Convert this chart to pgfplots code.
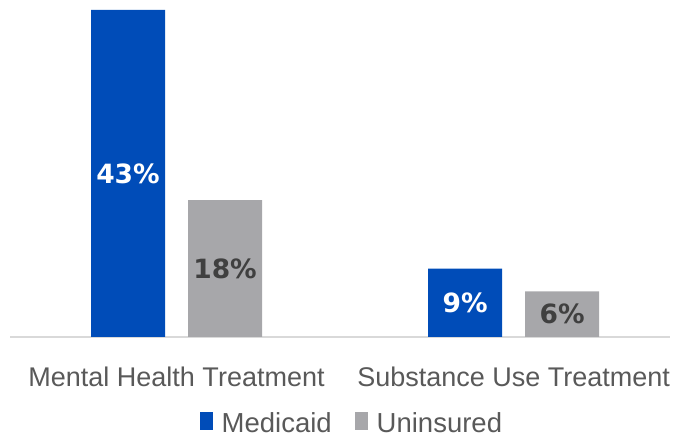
\documentclass[border=0pt]{standalone}
\usepackage{fontspec}
\setmainfont{Liberation Sans}
\newfontfamily\valfont{DejaVu Sans}
\usepackage{pgfplots}
\pgfplotsset{compat=1.18}
\definecolor{medblue}{HTML}{004CB8}
\definecolor{unigray}{HTML}{A7A7AA}
\definecolor{txtgray}{HTML}{595959}
\definecolor{axgray}{HTML}{D9D9D9}
\definecolor{dark}{HTML}{404040}
\begin{document}
\begin{tikzpicture}[x=1bp,y=1bp]
\path[use as bounding box] (0,0) rectangle (680,435);
\begin{axis}[
  at={(10bp,98bp)}, anchor=south west,
  scale only axis, width=660bp, height=327bp,
  ybar, bar width=74bp,
  xmin=-0.494, xmax=1.464, ymin=0, ymax=43,
  axis x line*=bottom, axis y line=none,
  x axis line style={draw=axgray, line width=1.2bp, -},
  xtick={0,1}, xticklabels={Mental Health Treatment, Substance Use Treatment},
  major tick length=0,
  /pgf/number format/assume math mode=true,
  xticklabel style={font=\fontsize{27bp}{31bp}\selectfont, text=txtgray, yshift=-26bp},
  legend style={at={(0.518,-0.263)}, anchor=center, draw=none, legend columns=2,
    font=\fontsize{27.5bp}{31bp}\selectfont, text=txtgray, fill=none, inner sep=0pt,
    /tikz/every odd column/.append style={column sep=7bp},
    /tikz/every even column/.append style={column sep=21bp}},
  legend image code/.code={\fill[#1] (0bp,-7bp) rectangle (13bp,11bp);},
  visualization depends on={y \as \rawy},
  nodes near coords={\pgfmathprintnumber{\pgfplotspointmeta}\%},
  point meta=y,
  every node near coord/.append style={anchor=center, yshift={-3.8023bp*\rawy},
    font=\valfont\bfseries\fontsize{26.5bp}{30bp}\selectfont},
]
\addplot[fill=medblue, draw=none, bar shift=-48.5bp,
  every node near coord/.append style={text=white}] coordinates {(0,43) (1,9)};
\addplot[fill=unigray, draw=none, bar shift=48.5bp,
  every node near coord/.append style={text=dark}] coordinates {(0,18) (1,6)};
\legend{Medicaid, Uninsured}
\end{axis}
\end{tikzpicture}
\end{document}
